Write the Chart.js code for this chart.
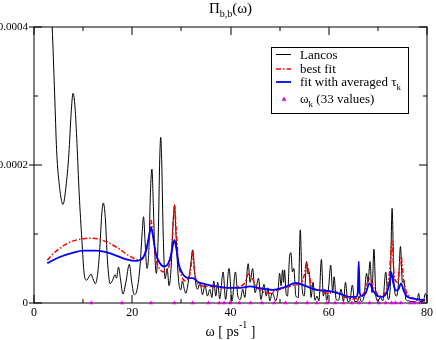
<!DOCTYPE html>
<html><head><meta charset="utf-8">
<script src="https://cdn.jsdelivr.net/npm/chart.js@4/dist/chart.umd.min.js"></script>
<style>html,body{margin:0;padding:0;background:#fff}#wrap{width:436px;height:340px;position:relative}</style>
</head><body><div id="wrap"><canvas id="c" width="436" height="340"></canvas></div>
<script>
const lancosX = [3.4,3.7,4.2,4.6,5.05,5.9,6.5,7.1,7.55,7.95,8.35,8.75,9.2,9.75,10.2,10.7,11.2,11.6,12.0,12.5,13.0,13.4,13.8,14.1,14.5,14.95,15.5,16.0,16.5,16.8,17.2,17.6,18.1,18.7,19.4,19.9,20.4,21.0,21.6,22.0,22.3,22.6,23.0,23.4,23.7,24.0,24.3,24.6,24.9,25.3,25.6,25.8,26.0,26.3,26.7,27.1,27.5,27.9,28.3,28.6,28.9,29.4,29.9,30.2,30.6,30.9,31.4,31.9,32.3,32.7,33.0,33.3,33.8,34.3,34.8,35.3,35.8,36.2,36.6,37.0,37.4,37.8,38.5,39.0,39.7,40.3,41.0,41.5,42.0,42.5,42.9,43.6,44.0,44.5,45.0,45.7,46.2,46.8,47.3,47.6,48.0,48.5,49.2,49.7,50.0,50.3,50.6,50.8,51.0,51.3,51.6,52.0,52.3,52.6,52.9,53.3,53.8,54.2,54.6,55.0,55.5,55.8,56.0,56.4,56.8,57.2,57.6,58.0,58.5,58.9,59.2,59.6,60.0,60.4,60.8,61.1,61.5,62.0,62.5,63.0,63.4,63.9,64.3,64.8,65.3,65.8,66.2,66.6,67.2,67.7,68.0,68.4,68.8,69.2,69.6,70.0,70.5,71.0,71.6,72.1,72.5,72.9,73.3,73.8,74.2,74.6,75.0,75.3,75.7,76.3,77.0,77.5,78.0,78.3,78.6,79.2,79.7,80.0];
const lancosY = [4.4e-4,4.0e-4,3.03e-4,2.22e-4,1.78e-4,1.43e-4,1.68e-4,2.16e-4,2.74e-4,3.04e-4,2.84e-4,2.31e-4,1.58e-4,0.91e-4,0.43e-4,0.33e-4,0.38e-4,0.42e-4,0.35e-4,0.28e-4,0.45e-4,0.8e-4,1.29e-4,1.45e-4,1.25e-4,0.62e-4,0.28e-4,0.33e-4,0.41e-4,0.36e-4,0.52e-4,0.35e-4,0.13e-4,0.3e-4,0.56e-4,0.3e-4,0.12e-4,0.2e-4,0.55e-4,1.0e-4,1.25e-4,0.9e-4,0.5e-4,0.8e-4,1.6e-4,1.94e-4,1.4e-4,0.7e-4,0.43e-4,1.0e-4,2.1e-4,2.4e-4,2.05e-4,1.0e-4,0.35e-4,0.5e-4,0.25e-4,0.5e-4,1.15e-4,1.42e-4,1.0e-4,0.35e-4,0.19e-4,0.32e-4,0.2e-4,0.14e-4,0.3e-4,0.55e-4,0.77e-4,0.45e-4,0.25e-4,0.2e-4,0.3e-4,0.12e-4,0.26e-4,0.1e-4,0.2e-4,0.08e-4,0.32e-4,0.1e-4,0.3e-4,0.06e-4,0.45e-4,0.05e-4,0.5e-4,0.03e-4,0.45e-4,0.1e-4,0.05e-4,0.2e-4,0.08e-4,0.57e-4,0.3e-4,0.5e-4,0.15e-4,0.36e-4,0.05e-4,0.27e-4,0.1e-4,0.22e-4,0.03e-4,0.15e-4,0.03e-4,0.2e-4,0.43e-4,0.25e-4,0.48e-4,0.3e-4,0.48e-4,0.15e-4,0.1e-4,0.65e-4,0.73e-4,0.45e-4,0.5e-4,0.1e-4,0.08e-4,1.06e-4,0.2e-4,0.1e-4,0.6e-4,0.42e-4,0.45e-4,0.08e-4,0.3e-4,0.04e-4,0.1e-4,0.03e-4,0.63e-4,0.1e-4,0.2e-4,0.04e-4,0.25e-4,0.55e-4,0.15e-4,0.38e-4,0.05e-4,0.04e-4,0.2e-4,0.02e-4,0.3e-4,0.02e-4,0.03e-4,0.26e-4,0.02e-4,0.02e-4,0.1e-4,0.02e-4,0.1e-4,0.43e-4,0.3e-4,0.6e-4,0.15e-4,0.78e-4,0.1e-4,0.03e-4,0.08e-4,0.03e-4,0.45e-4,0.05e-4,0.2e-4,1.37e-4,0.25e-4,0.1e-4,0.3e-4,0.82e-4,0.3e-4,0.33e-4,0.05e-4,0.03e-4,0.02e-4,0.02e-4,0.04e-4,0.14e-4,0.02e-4,0.02e-4,0.14e-4,0.05e-4];

const bestFitX = [2.7,4,6,8,10,11.65,13,15,17,19,20.5,21.5,22.3,23,23.5,23.8,24.2,24.8,25.5,26.5,27.3,27.9,28.3,28.6,28.9,29.4,30,30.8,31.6,32.0,32.3,32.6,33.2,34,36,39,41,43,43.6,44.2,44.8,46,48,49,51,53.1,54.5,55.0,55.5,55.9,56.5,57.8,59.8,61.5,62.5,63.8,65.5,66.2,67.2,68.3,69.3,70.5,71.5,72.3,72.9,73.3,74.0,74.7,75.3,76.3,78,79.6];
const bestFitY = [0.62e-4,0.72e-4,0.83e-4,0.9e-4,0.93e-4,0.94e-4,0.93e-4,0.88e-4,0.8e-4,0.7e-4,0.64e-4,0.62e-4,0.66e-4,0.8e-4,1.0e-4,1.2e-4,1.0e-4,0.65e-4,0.5e-4,0.45e-4,0.5e-4,0.7e-4,1.1e-4,1.42e-4,1.1e-4,0.6e-4,0.4e-4,0.32e-4,0.38e-4,0.55e-4,0.76e-4,0.5e-4,0.29e-4,0.25e-4,0.24e-4,0.22e-4,0.23e-4,0.3e-4,0.42e-4,0.4e-4,0.3e-4,0.19e-4,0.14e-4,0.17e-4,0.22e-4,0.26e-4,0.3e-4,0.4e-4,0.58e-4,0.45e-4,0.25e-4,0.19e-4,0.14e-4,0.16e-4,0.12e-4,0.07e-4,0.06e-4,0.08e-4,0.15e-4,0.35e-4,0.2e-4,0.1e-4,0.15e-4,0.4e-4,0.9e-4,0.4e-4,0.3e-4,0.67e-4,0.3e-4,0.1e-4,0.06e-4,0.03e-4];

const avgFitX = [2.7,5,8,10,12.7,15,17,19,20.7,21.5,22.3,23.0,23.5,23.8,24.2,24.8,25.6,26.5,27.3,27.9,28.3,28.6,28.9,29.5,30.2,30.8,31.6,32.3,33.5,35,37.2,40,42,44,45.5,48.6,51,53.3,55.5,57.4,59,60.7,62.5,64.1,65.6,65.9,66.1,66.3,66.7,67.5,68.3,69.0,70,70.8,71.8,72.4,72.7,73.1,73.7,74.2,74.7,75.3,76,77.5,79.6];
const avgFitY = [0.575e-4,0.66e-4,0.73e-4,0.76e-4,0.76e-4,0.73e-4,0.68e-4,0.63e-4,0.61e-4,0.62e-4,0.67e-4,0.82e-4,1.0e-4,1.1e-4,0.98e-4,0.72e-4,0.58e-4,0.53e-4,0.57e-4,0.7e-4,0.85e-4,0.91e-4,0.82e-4,0.55e-4,0.43e-4,0.38e-4,0.36e-4,0.36e-4,0.3e-4,0.27e-4,0.24e-4,0.22e-4,0.22e-4,0.24e-4,0.22e-4,0.19e-4,0.23e-4,0.29e-4,0.24e-4,0.19e-4,0.18e-4,0.165e-4,0.13e-4,0.09e-4,0.09e-4,0.15e-4,0.6e-4,0.15e-4,0.1e-4,0.14e-4,0.285e-4,0.18e-4,0.1e-4,0.09e-4,0.15e-4,0.3e-4,0.45e-4,0.3e-4,0.18e-4,0.2e-4,0.285e-4,0.17e-4,0.09e-4,0.06e-4,0.04e-4];

const omegaK = [11.65,17.9,23.8,28.6,32.3,35.5,37.7,38.7,39.9,41.8,44.1,46.4,48.9,51.2,53.4,55.6,57.6,59.6,61.3,63.0,64.7,66.2,68.3,70.2,71.6,72.8,73.6,74.7,76.6,77.4,78.4];

const xTicks = [0,20,40,60,80];
const xMinor = [10,30,50,70];
const yTicks = [0,0.0002,0.0004];
const yTickLabels = ['0','0.0002','0.0004'];
const yMinor = [0.0001,0.0003];

const SERIF = '"Liberation Serif","Times New Roman",serif';
const pts = (xs, ys) => xs.map((x,i)=>({x, y: ys[i]}));

const decor = {
  id:'decor',
  beforeDatasetsDraw(chart){
    const {ctx, chartArea:a, scales:{x,y}} = chart;
    ctx.save();
    ctx.strokeStyle='#000'; ctx.lineWidth=1;
    const ln=(x1,y1,x2,y2)=>{ctx.beginPath();ctx.moveTo(x1,y1);ctx.lineTo(x2,y2);ctx.stroke();};
    const L=Math.round(a.left), R=Math.round(a.right), T=Math.round(a.top), B=Math.round(a.bottom);
    xTicks.forEach(v=>{const p=Math.round(x.getPixelForValue(v)); ln(p,B,p,B-8); ln(p,T,p,T+8);});
    xMinor.forEach(v=>{const p=Math.round(x.getPixelForValue(v)); ln(p,B,p,B-4); ln(p,T,p,T+4);});
    yTicks.forEach(v=>{const p=Math.round(y.getPixelForValue(v)); ln(L-5,p,L+8,p); ln(R,p,R-8,p);});
    yMinor.forEach(v=>{const p=Math.round(y.getPixelForValue(v)); ln(L,p,L+4,p); ln(R,p,R-4,p);});
    ctx.strokeRect(L,T,R-L,B-T);
    ctx.restore();
  },
  afterDraw(chart){
    const {ctx, chartArea:a} = chart;
    ctx.save();
    ctx.fillStyle='#000';
    ctx.textBaseline='alphabetic';
    const tf='15px '+SERIF, sf='10px '+SERIF;
    ctx.font=tf; const w1=ctx.measureText('\u03A0').width, w3=ctx.measureText('(\u03C9)').width;
    ctx.font=sf; const w2=ctx.measureText('b,b').width;
    let tx=(a.left+a.right)/2-(w1+w2+w3)/2;
    ctx.font=tf; ctx.fillText('\u03A0',tx,13); tx+=w1;
    ctx.font=sf; ctx.fillText('b,b',tx,17); tx+=w2;
    ctx.font=tf; ctx.fillText('(\u03C9)',tx,13);
    const xf='14px '+SERIF, xs='10px '+SERIF;
    ctx.font=xf; const a1=ctx.measureText('\u03C9 [ ps').width, a3=ctx.measureText(' ]').width;
    ctx.font=xs; const a2=ctx.measureText('-1').width;
    let ax=(a.left+a.right)/2-(a1+a2+a3)/2;
    ctx.font=xf; ctx.fillText('\u03C9 [ ps',ax,336); ax+=a1;
    ctx.font=xs; ctx.fillText('-1',ax,328); ax+=a2;
    ctx.font=xf; ctx.fillText(' ]',ax,336);
    ctx.fillStyle='#fff'; ctx.fillRect(271,47,137,66);
    ctx.strokeStyle='#000'; ctx.lineWidth=1; ctx.strokeRect(271.5,47.5,137,66);
    const lx1=276, lx2=291, tx0=300;
    ctx.lineWidth=1; ctx.strokeStyle='#000';
    ctx.beginPath(); ctx.moveTo(lx1,54.5); ctx.lineTo(lx2,54.5); ctx.stroke();
    ctx.lineWidth=1.5; ctx.strokeStyle='#ff0000'; ctx.setLineDash([5,2,1.5,2]);
    ctx.beginPath(); ctx.moveTo(lx1,69); ctx.lineTo(lx2,69); ctx.stroke();
    ctx.setLineDash([]);
    ctx.lineWidth=1.8; ctx.strokeStyle='#0000ff';
    ctx.beginPath(); ctx.moveTo(lx1,82); ctx.lineTo(lx2,82); ctx.stroke();
    ctx.fillStyle='#e000e0';
    ctx.beginPath(); ctx.moveTo(284,96.5); ctx.lineTo(286.3,100.8); ctx.lineTo(281.7,100.8); ctx.closePath(); ctx.fill();
    ctx.fillStyle='#000';
    const lf='13px '+SERIF, lsf='9px '+SERIF;
    ctx.font=lf; ctx.fillText('Lancos',tx0,59);
    ctx.fillText('best fit',tx0,73);
    ctx.fillText('fit with averaged \u03C4',tx0,86);
    let w=ctx.measureText('fit with averaged \u03C4').width;
    ctx.font=lsf; ctx.fillText('k',tx0+w,90);
    ctx.font=lf; ctx.fillText('\u03C9',tx0,103);
    w=ctx.measureText('\u03C9').width;
    ctx.font=lsf; ctx.fillText('k',tx0+w,107);
    const wk=ctx.measureText('k').width;
    ctx.font=lf; ctx.fillText(' (33 values)',tx0+w+wk,103);
    ctx.restore();
  }
};

new Chart(document.getElementById('c'), {
  type:'line',
  data:{datasets:[
    {label:'Lancos', data:pts(lancosX,lancosY), borderColor:'#000', borderWidth:1, pointRadius:0, cubicInterpolationMode:'monotone', order:3},
    {label:'best fit', data:pts(bestFitX,bestFitY), borderColor:'#ff0000', borderWidth:1.5, borderDash:[5,2,1.5,2], pointRadius:0, cubicInterpolationMode:'monotone', order:2},
    {label:'fit with averaged tau_k', data:pts(avgFitX,avgFitY), borderColor:'#0000ff', borderWidth:1.8, pointRadius:0, cubicInterpolationMode:'monotone', order:1},
    {label:'omega_k (33 values)', data:omegaK.map(v=>({x:v,y:0})), showLine:false, pointStyle:'triangle', pointRadius:2.6, backgroundColor:'#e000e0', borderColor:'#e000e0', borderWidth:0, clip:false, order:0}
  ]},
  options:{
    responsive:false, animation:false, devicePixelRatio:1,
    layout:{padding:{top:27,right:6,left:0,bottom:0}},
    plugins:{legend:{display:false}, tooltip:{enabled:false}, title:{display:false}},
    scales:{
      x:{type:'linear', min:0, max:80,
        afterFit:s=>{s.height=37;},
        afterBuildTicks:s=>{s.ticks=xTicks.map(v=>({value:v}));},
        ticks:{font:{family:SERIF,size:12}, color:'#000', padding:3, maxRotation:0, autoSkip:false},
        grid:{display:false, drawTicks:false}, border:{display:false}},
      y:{type:'linear', min:0, max:0.0004,
        afterFit:s=>{s.width=34;},
        afterBuildTicks:s=>{s.ticks=yTicks.map(v=>({value:v}));},
        ticks:{font:{family:SERIF,size:11}, color:'#000', padding:6, autoSkip:false,
          callback:(v)=>{const i=yTicks.indexOf(v); return i>=0?yTickLabels[i]:'';}},
        grid:{display:false, drawTicks:false}, border:{display:false}}
    }
  },
  plugins:[decor]
});
</script></body></html>
